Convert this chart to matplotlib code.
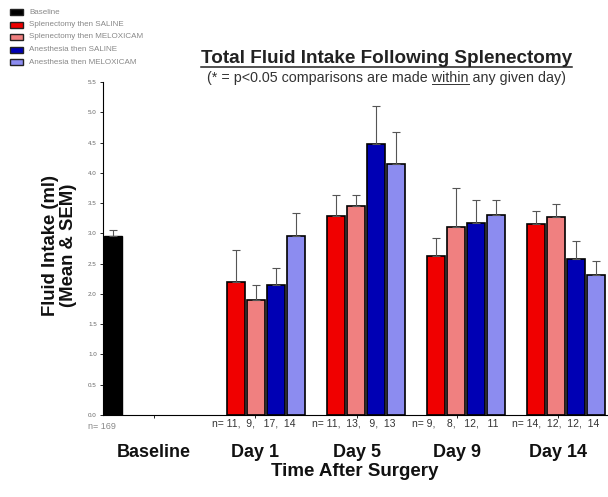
import matplotlib
matplotlib.use("Agg")
import matplotlib.pyplot as plt
from matplotlib.patches import Rectangle

plt.rcParams["font.family"] = ["Liberation Sans", "DejaVu Sans"]

series = ["Splenectomy then SALINE", "Splenectomy then MELOXICAM",
          "Anesthesia then SALINE", "Anesthesia then MELOXICAM"]
colors = ["#F00000", "#F08080", "#0000B4", "#8C8CF0"]
days = ["Day 1", "Day 5", "Day 9", "Day 14"]
means = [
    [2.20, 3.28, 2.63, 3.15],
    [1.90, 3.45, 3.10, 3.27],
    [2.15, 4.47, 3.17, 2.58],
    [2.95, 4.15, 3.30, 2.32],
]
sems = [
    [0.52, 0.35, 0.30, 0.22],
    [0.25, 0.18, 0.65, 0.21],
    [0.27, 0.63, 0.38, 0.30],
    [0.38, 0.52, 0.25, 0.23],
]
baseline_mean = 2.96
baseline_sem = 0.09
n_labels = ["n= 11,  9,   17,  14", "n= 11,  13,   9,  13",
            "n= 9,    8,   12,   11", "n= 14,  12,  12,  14"]
baseline_n = "n= 169"

fig = plt.figure(figsize=(6.08, 4.97), dpi=100)
ax = fig.add_axes([0.1694, 0.165, 0.829, 0.670])

bw = 0.9
ekw = dict(ecolor="#555555", capsize=3, lw=0.8, capthick=0.8)
ax.bar(0.525, baseline_mean, width=bw, color="black", edgecolor="black", lw=1,
       yerr=[[0], [baseline_sem]], error_kw=ekw, zorder=2)
group_starts = [6.65, 11.65, 16.65, 21.65]
for s in range(4):
    xs = [g + s * 1.0 for g in group_starts]
    ax.bar(xs, means[s], width=bw, color=colors[s], edgecolor="black", lw=1.2,
           yerr=[[0] * 4, sems[s]], error_kw=ekw, zorder=2)

ax.set_xlim(0, 25.2)
ax.set_ylim(0, 5.5)
ax.spines["top"].set_visible(False)
ax.spines["right"].set_visible(False)
ax.set_yticks([i * 0.5 for i in range(12)])
ax.set_yticklabels([f"{i*0.5:.1f}" for i in range(12)], fontsize=4.5, color="#666666")
ax.tick_params(axis="y", length=2.5, width=0.6, pad=2)

tick_x = [2.55, 7.6, 12.7, 17.7, 22.75]
ax.set_xticks(tick_x)
ax.set_xticklabels([])
ax.tick_params(axis="x", length=2, width=0.6)

for x, lab in zip(tick_x, ["Baseline"] + days):
    ax.text(x, -0.48, lab, ha="center", va="top", fontsize=13, fontweight="bold",
            clip_on=False, color="#111111")
ax.text(12.6, -0.8, "Time After Surgery", ha="center", va="top", fontsize=13.5,
        fontweight="bold", clip_on=False, color="#111111")

ax.text(-0.75, -0.12, baseline_n, ha="left", va="top", fontsize=6.5, color="#888888", clip_on=False)
for g, lab in zip(group_starts, n_labels):
    ax.text(g - 1.2, -0.06, lab, ha="left", va="top", fontsize=7.5, color="#333333", clip_on=False)

fig.text(0.098, 0.507, "Fluid Intake (ml)\n(Mean & SEM)", rotation=90, ha="center",
         va="center", fontsize=13.3, fontweight="bold", linespacing=1.05, color="#111111")

r = fig.canvas.get_renderer()
# title
tt = fig.text(0.636, 0.883, "Total Fluid Intake Following Splenectomy", ha="center",
              va="center", fontsize=13.6, fontweight="bold", color="#222222")
tb = tt.get_window_extent(r)
fig.add_artist(plt.Line2D([tb.x0 / fig.bbox.width, tb.x1 / fig.bbox.width],
                          [0.866, 0.866], color="#222222", lw=1.1))
fs = 10.3
sub = "(* = p<0.05 comparisons are made within any given day)"
st = fig.text(0.636, 0.843, sub, ha="center", va="center", fontsize=fs, color="#333333")
full = st.get_window_extent(r)
tmp = fig.text(0, 0, "(* = p<0.05 comparisons are made ", fontsize=fs)
pre_w = tmp.get_window_extent(r).width
tmp2 = fig.text(0, 0, "within", fontsize=fs)
w_w = tmp2.get_window_extent(r).width
tmp.remove(); tmp2.remove()
x0 = (full.x0 + pre_w) / fig.bbox.width
x1 = (full.x0 + pre_w + w_w) / fig.bbox.width
fig.add_artist(plt.Line2D([x0, x1], [0.830, 0.830], color="#333333", lw=0.7))

# legend
leg_names = ["Baseline"] + series
leg_colors = ["black"] + colors
for i, (nm, c) in enumerate(zip(leg_names, leg_colors)):
    yc = 1 - (12 + i * 12.5) / 497
    fig.add_artist(Rectangle((10 / 608, yc - 3 / 497), 13 / 608, 6 / 497,
                             facecolor=c, edgecolor="#222222", lw=1,
                             transform=fig.transFigure))
    fig.text(29 / 608, yc, nm, ha="left", va="center", fontsize=5.8, color="#888888")

fig.savefig("out.png", dpi=100)
